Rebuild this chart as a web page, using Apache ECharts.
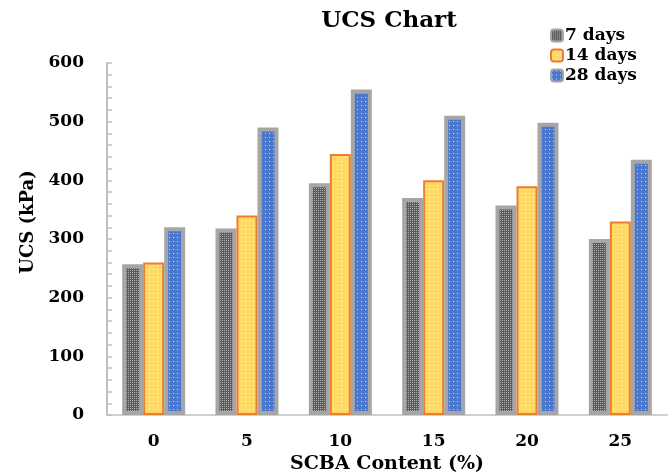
<!DOCTYPE html>
<html><head><meta charset="utf-8">
<script src="https://cdn.jsdelivr.net/npm/echarts@6/dist/echarts.min.js"></script>
<style>html,body{margin:0;padding:0;background:#fff}#c{width:671px;height:472px}</style>
</head><body><div id="c"></div>
<script>
const categories = ['0', '5', '10', '15', '20', '25'];
const days7 = [257, 318, 395, 370, 357, 300];
const days14 = [260, 340, 445, 400, 390, 330];
const days28 = [320, 490, 555, 510, 498, 435];
const yTicks = [0, 100, 200, 300, 400, 500, 600];

function pattern(bg, dot, size, checker) {
  const c = document.createElement('canvas');
  c.width = size; c.height = size;
  const g = c.getContext('2d');
  g.fillStyle = bg; g.fillRect(0, 0, size, size);
  g.fillStyle = dot;
  if (checker) {
    g.fillRect(0, 0, 1, 1); g.fillRect(2, 2, 1, 1);
    g.fillRect(2, 0, 1, 1); g.fillRect(0, 2, 1, 1);
  } else {
    g.fillRect(1, 1, 1, 1);
  }
  return { image: c, repeat: 'repeat' };
}
const p7 = pattern('#5a5a5a', '#b0b0b0', 4, true);
const p14 = pattern('#ffd966', '#fff8dc', 4, false);
const p28 = pattern('#4a78d0', '#c8d8f5', 4, false);

const font = '"DejaVu Serif", "Liberation Serif", serif';
const chart = echarts.init(document.getElementById('c'));
chart.setOption({
  animation: false,
  title: { text: 'UCS Chart', left: 384, top: 5, textAlign: 'center',
    textStyle: { fontFamily: font, fontSize: 23, fontWeight: 'bold', color: '#000' } },
  legend: {
    orient: 'vertical', left: 545, top: 22, itemWidth: 12, itemHeight: 12, itemGap: 3,
    textStyle: { fontFamily: font, fontSize: 17, fontWeight: 'bold', color: '#000', padding: [0,0,0,-3] },
    data: [
      { name: '7 days', itemStyle: { color: p7, borderColor: '#a6a6a6', borderWidth: 2 } },
      { name: '14 days', itemStyle: { color: p14, borderColor: '#ed7d31', borderWidth: 2 } },
      { name: '28 days', itemStyle: { color: p28, borderColor: '#a6a6a6', borderWidth: 2 } }
    ]
  },
  grid: { left: 107, top: 63, right: 4, bottom: 57, outerBoundsMode: 'none', containLabel: false },
  xAxis: {
    type: 'category', data: categories,
    name: 'SCBA Content (%)', nameLocation: 'middle', nameGap: 38,
    nameTextStyle: { fontFamily: font, fontSize: 19, fontWeight: 'bold', color: '#000' },
    axisLine: { lineStyle: { color: '#d0d0d0', width: 2 } },
    axisTick: { show: false },
    axisLabel: { fontFamily: font, fontSize: 17, fontWeight: 'bold', color: '#000', margin: 18 }
  },
  yAxis: {
    type: 'value', min: 0, max: 600, interval: 100,
    name: 'UCS (kPa)', nameLocation: 'middle', nameGap: 70,
    nameTextStyle: { fontFamily: font, fontSize: 18, fontWeight: 'bold', color: '#000', padding: [0, 0, 0, 34] },
    axisLine: { show: true, lineStyle: { color: '#c0c0c0', width: 2 } },
    axisTick: { show: true, inside: true, length: 5, lineStyle: { color: '#c0c0c0', width: 1.5 } },
    minorTick: { show: true, splitNumber: 5, length: 5, lineStyle: { color: '#c0c0c0', width: 1.5 } },
    splitLine: { show: false },
    axisLabel: { fontFamily: font, fontSize: 17, fontWeight: 'bold', color: '#000', margin: 23,
      formatter: v => yTicks.includes(v) ? String(v) : '' }
  },
  series: [
    { name: '7 days', type: 'bar', data: days7, barWidth: 21, barGap: '0%',
      itemStyle: { color: p7, borderColor: '#a6a6a6', borderWidth: 4 } },
    { name: '14 days', type: 'bar', data: days14, barWidth: 21,
      itemStyle: { color: p14, borderColor: '#ed7d31', borderWidth: 2 } },
    { name: '28 days', type: 'bar', data: days28, barWidth: 21,
      itemStyle: { color: p28, borderColor: '#a6a6a6', borderWidth: 4 } }
  ]
});
</script></body></html>
